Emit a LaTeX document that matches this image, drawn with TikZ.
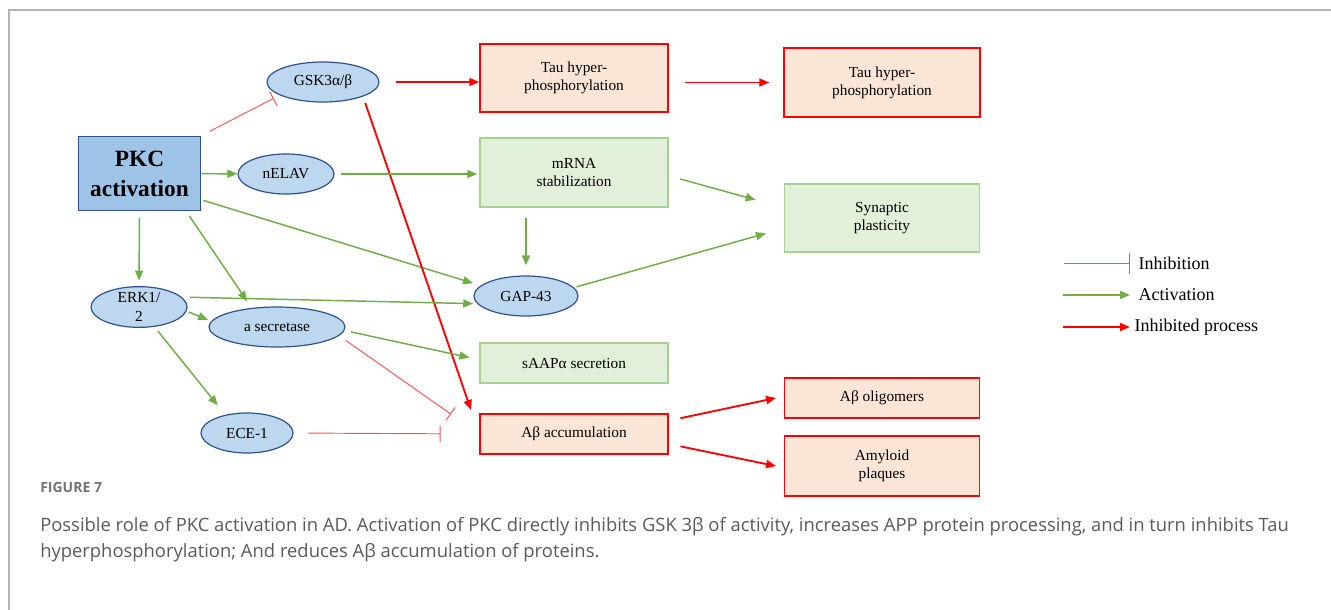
\documentclass[tikz,border=0pt]{standalone}
\usepackage{fontspec}
\setmainfont{Liberation Serif}
\newfontfamily\capfont{Open Sans}
\usetikzlibrary{shapes.geometric,arrows.meta}

\definecolor{pkcfill}{HTML}{9DC3E6}
\definecolor{ellfill}{HTML}{BDD7EE}
\definecolor{ellblue}{HTML}{2F528F}
\definecolor{pkred}{HTML}{FF0000}
\definecolor{inhred}{HTML}{FF5050}
\definecolor{redfill}{HTML}{FBE5D6}
\definecolor{greenfill}{HTML}{E2F0D9}
\definecolor{boxgreen}{HTML}{A9D18E}
\definecolor{actgreen}{HTML}{70AD47}
\definecolor{framegray}{HTML}{B4B4B4}
\definecolor{capgray}{HTML}{5A5A5A}

\begin{document}
\begin{tikzpicture}[x=0.75pt,y=-0.75pt]

\tikzset{pkcbox/.style={rectangle,draw=ellblue,fill=pkcfill,line width=0.9pt,inner sep=0pt,minimum width=92pt,minimum height=56pt,align=center,font=\fontsize{17.5}{22.5}\selectfont\bfseries},}
\tikzset{molnode/.style={ellipse,draw=ellblue,fill=ellfill,line width=0.9pt,inner sep=0pt,minimum height=30pt,align=center,font=\fontsize{11.5}{14}\selectfont},}
\tikzset{redbox/.style={rectangle,draw=pkred,fill=redfill,line width=1.1pt,inner sep=0pt,align=center,font=\fontsize{11.5}{13.5}\selectfont},}
\tikzset{greenbox/.style={rectangle,draw=boxgreen,fill=greenfill,line width=1.1pt,inner sep=0pt,align=center,font=\fontsize{11.5}{13.5}\selectfont},}
\tikzset{act/.style={-{Triangle[length=7.5pt,width=6pt]},draw=actgreen,line width=1.1pt},}
\tikzset{proc/.style={-{Triangle[length=7.5pt,width=6pt]},draw=pkred,line width=1.4pt},}
\tikzset{inh/.style={-{Bar[width=12pt]},draw=inhred,line width=0.7pt},}
\tikzset{leginh/.style={-{Bar[width=16pt]},draw=inhred,line width=0.8pt},}
\tikzset{legtext/.style={anchor=west,font=\fontsize{13.5}{16}\selectfont},}

  \useasboundingbox (0,0) rectangle (1331,610);
  \draw[framegray,line width=1.5pt] (1331,10) -- (9,10) -- (9,610);

  \draw (139.5,173.5) node[pkcbox](pkc) {PKC\\activation};
  \draw (323,82) node[molnode,minimum width=84pt](gsk) {GSK3α/β};
  \draw (286,174) node[molnode,minimum width=72pt](nelav) {nELAV};
  \draw (139,307) node[molnode,minimum width=72pt](erk) {ERK1/\\2};
  \draw (277,327) node[molnode,minimum width=102pt](asec) {a secretase};
  \draw (247,433) node[molnode,minimum width=69pt](ece) {ECE-1};
  \draw (526,296) node[molnode,minimum width=78pt](gap) {GAP-43};

  \draw (574,78) node[redbox,minimum width=141pt,minimum height=51pt](tau1) {Tau hyper-\\phosphorylation};
  \draw (882,82.5) node[redbox,minimum width=147pt,minimum height=51.75pt](tau2) {Tau hyper-\\phosphorylation};
  \draw (574,172.5) node[greenbox,minimum width=141pt,minimum height=51.75pt](mrna) {mRNA\\stabilization};
  \draw (882,218) node[greenbox,minimum width=146pt,minimum height=51pt](syn) {Synaptic\\plasticity};
  \draw (574,363) node[greenbox,minimum width=141pt,minimum height=30pt](saap) {sAAPα secretion};
  \draw (574,434) node[redbox,minimum width=141pt,minimum height=30pt](abacc) {Aβ accumulation};
  \draw (882,398) node[redbox,minimum width=146pt,minimum height=30pt](abolig) {Aβ oligomers};
  \draw (882,466) node[redbox,minimum width=146pt,minimum height=45pt](amyl) {Amyloid\\plaques};

  %edges from PKC
  \draw[inh,shorten <=7pt,shorten >=5pt] (pkc.north east) -- (gsk.197);
  \draw[act] (pkc) -- (nelav);
  \draw[act,shorten <=5pt,shorten >=4pt] (pkc.south) -- (erk.north);
  \draw[act,shorten <=4pt,shorten >=6pt] (pkc.-39) -- (asec.143);
  \draw[act,shorten <=1.5pt,shorten >=6pt] (pkc.-23) -- (gap.167);

  %edges from GSK3
  \draw[proc,shorten <=12pt] (gsk.east) -- (gsk.east -| tau1.west);
  \draw[proc,shorten <=5pt,shorten >=19pt] (gsk.-20) -- (abacc.west);
  \draw[proc,shorten <=12pt,shorten >=10.5pt] (tau1.east |- tau2.west) -- (tau2.west);

  %edges from nELAV
  \draw[act,shorten <=4.5pt,shorten >=1.5pt] (nelav.east) -- (nelav.east -| mrna.west);
  \draw[act,shorten <=7.5pt,shorten >=7.5pt] (gap.north |- mrna.south) -- (gap.north);
  \draw[act,shorten <=9pt,shorten >=22pt] (mrna.-2) -- (syn.174);
  \draw[act,shorten <=2pt,shorten >=14pt] (gap.10) -- (syn.186);

  %edges from ERK
  \draw[act,shorten <=6pt,shorten >=3pt] (erk.13) -- (gap.189);
  \draw[act,shorten <=1.5pt,shorten >=2.5pt] (erk.-5) -- (asec.175);
  \draw[act,shorten <=4pt,shorten >=9pt] (erk.-52) -- (ece.140);

  %secretase and ECE-1
  \draw[act,shorten <=5pt,shorten >=7.5pt] (asec.-3) -- (saap.178);
  \draw[inh,shorten <=6pt,shorten >=26pt] (asec.-8) -- (abacc.west);
  \draw[inh,shorten <=11pt,shorten >=29pt] (ece.east) -- (abacc.west);

  %Abeta
  \draw[proc,shorten <=9pt,shorten >=6pt] (abacc.8) -- (abolig.179);
  \draw[proc,shorten <=9pt,shorten >=6pt] (abacc.-6) -- (amyl.181);

  %legend
  \coordinate (inhA) at (1064,263.5);
  \coordinate (actA) at (1063,295);
  \coordinate (procA) at (1063,327);
  \draw (1134,263.5) node[legtext](inhlab) {Inhibition};
  \draw (1134,295) node[legtext](actlab) {Activation};
  \draw (1130,327) node[legtext](proclab) {Inhibited process};
  \draw[leginh,shorten >=3pt] (inhA) -- (inhlab.west);
  \draw[act,shorten >=3pt] (actA) -- (actlab.west);
  \draw[proc] (procA) -- (proclab.west);

  %caption
  \draw (40,487) node[anchor=west,inner sep=0pt,text=capgray!85,font=\capfont\fontsize{10.5}{12}\selectfont\bfseries](figlab) {FIGURE 7};
  \draw (40,517) node[anchor=north west,inner sep=0pt,align=left,text=capgray,font=\capfont\fontsize{13.8}{19.5}\selectfont](caption) {Possible role of PKC activation in AD. Activation of PKC directly inhibits GSK 3β of activity, increases APP protein processing, and in turn inhibits Tau\\hyperphosphorylation; And reduces Aβ accumulation of proteins.};

\end{tikzpicture}
\end{document}
